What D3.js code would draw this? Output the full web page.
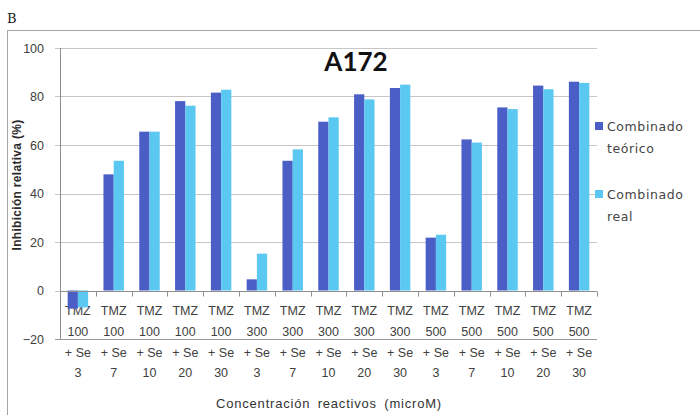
<!DOCTYPE html>
<html>
<head>
<meta charset="utf-8">
<script src="https://cdn.jsdelivr.net/npm/d3@7/dist/d3.min.js"></script>
<style>
  html, body { margin: 0; padding: 0; background: #fff; }
  svg { display: block; }
</style>
</head>
<body>
<div id="chart"></div>
<script>
// Combination groups: temozolomide dose and selenium dose (microM)
const tmzDose = [100, 100, 100, 100, 100, 300, 300, 300, 300, 300, 500, 500, 500, 500, 500];
const seDose  = [3, 7, 10, 20, 30, 3, 7, 10, 20, 30, 3, 7, 10, 20, 30];
const categories = tmzDose.map((t, i) => `TMZ ${t} + Se ${seDose[i]}`);

// Relative inhibition (%) per group
const seriesNames = ["Combinado teórico", "Combinado real"];
const teorico = [-7.5, 47.9, 65.5, 78.1, 81.6, 4.6, 53.5, 69.6, 80.9, 83.5, 21.8, 62.3, 75.5, 84.5, 86.1];
const real    = [-7.0, 53.5, 65.5, 76.2, 82.8, 15.2, 58.2, 71.4, 78.8, 84.9, 23.0, 61.0, 74.8, 83.0, 85.6];

const yTicks = [-20, 0, 20, 40, 60, 80, 100];
const colors = ["#4a5ec6", "#5bc8f2"];

const W = 700, H = 415;
const plot = { left: 60, right: 597, top: 48, bottom: 339 };

const svg = d3.select("#chart").append("svg")
  .attr("width", W).attr("height", H);

// Outer chart frame
svg.append("rect")
  .attr("x", 7.5).attr("y", 30.5)
  .attr("width", 720).attr("height", 420)
  .attr("fill", "none").attr("stroke", "#a6a6a6").attr("stroke-width", 1);

// Panel letter
svg.append("text")
  .attr("x", 7).attr("y", 22.5)
  .attr("font-family", "DejaVu Serif").attr("font-size", 13)
  .attr("fill", "#222").text("B");

const x = d3.scaleBand().domain(categories)
  .range([plot.left, plot.right]).paddingInner(0).paddingOuter(0);
const x1 = d3.scaleBand().domain(seriesNames)
  .range([0, x.bandwidth()]).paddingInner(0).paddingOuter(0.75);
const y = d3.scaleLinear().domain([-20, 100]).range([plot.bottom, plot.top]);

// Horizontal gridlines with small outward ticks
svg.append("g").selectAll("line").data(yTicks).join("line")
  .attr("x1", plot.left - 5).attr("x2", plot.right)
  .attr("y1", d => Math.round(y(d)) + 0.5).attr("y2", d => Math.round(y(d)) + 0.5)
  .attr("stroke", d => d === -20 ? "#9a9a9a" : "#c6c6c6")
  .attr("stroke-width", 1);

// Y axis
const yAxis = d3.axisLeft(y).tickValues(yTicks).tickSize(0).tickPadding(16);
const gy = svg.append("g").attr("transform", `translate(${plot.left},0)`).call(yAxis);
gy.select(".domain").remove();
gy.selectAll("text")
  .attr("font-family", "Liberation Sans").attr("font-size", 12.5)
  .attr("fill", "#404040");
svg.append("line")
  .attr("x1", plot.left + 0.5).attr("x2", plot.left + 0.5)
  .attr("y1", plot.top).attr("y2", plot.bottom)
  .attr("stroke", "#8f8f8f");

// Category labels, wrapped onto four lines
const labelLines = i => ["TMZ", String(tmzDose[i]), "+ Se", String(seDose[i])];
const lineY = [315, 336, 357, 377];
const gl = svg.append("g");
categories.forEach((c, i) => {
  const cx = x(c) + x.bandwidth() / 2;
  labelLines(i).forEach((t, k) => {
    gl.append("text")
      .attr("x", cx).attr("y", lineY[k])
      .attr("text-anchor", "middle")
      .attr("font-family", "Liberation Sans").attr("font-size", 12.5)
      .attr("fill", "#404040").text(t);
  });
});

// Bars
const rows = categories.map((c, i) => ({ c, vals: [teorico[i], real[i]] }));
svg.append("g").selectAll("g").data(rows).join("g")
  .attr("transform", d => `translate(${x(d.c)},0)`)
  .selectAll("rect").data(d => d.vals.map((v, k) => ({ v, k })))
  .join("rect")
  .attr("x", d => x1(seriesNames[d.k]))
  .attr("width", x1.bandwidth())
  .attr("y", d => y(Math.max(0, d.v)))
  .attr("height", d => Math.abs(y(d.v) - y(0)))
  .attr("fill", d => colors[d.k]);

// Category axis at zero with ticks between groups
const y0 = Math.round(y(0)) + 0.5;
svg.append("line")
  .attr("x1", plot.left).attr("x2", plot.right)
  .attr("y1", y0).attr("y2", y0)
  .attr("stroke", "#8f8f8f");
svg.append("g").selectAll("line")
  .data(d3.range(categories.length + 1))
  .join("line")
  .attr("x1", i => Math.round(plot.left + i * x.step()) + 0.5)
  .attr("x2", i => Math.round(plot.left + i * x.step()) + 0.5)
  .attr("y1", y0).attr("y2", y0 + 5)
  .attr("stroke", "#8f8f8f");

// Title
svg.append("text")
  .attr("x", 356).attr("y", 70.5)
  .attr("text-anchor", "middle")
  .attr("font-family", "Lato").attr("font-weight", "bold").attr("font-size", 26)
  .attr("fill", "#111").text("A172");

// Axis titles
svg.append("text")
  .attr("x", 329).attr("y", 408)
  .attr("text-anchor", "middle")
  .attr("font-family", "Liberation Sans").attr("font-size", 13)
  .attr("letter-spacing", 0.8).attr("word-spacing", 3)
  .attr("fill", "#333")
  .text("Concentración reactivos (microM)");

svg.append("text")
  .attr("transform", "translate(21,185) rotate(-90)")
  .attr("text-anchor", "middle")
  .attr("font-family", "Liberation Sans").attr("font-weight", "bold").attr("font-size", 12)
  .attr("letter-spacing", 0.3)
  .attr("fill", "#2a2a2a")
  .text("Inhibición relativa (%)");

// Legend
const legend = [
  { lines: ["Combinado", "teórico"], y: 131 },
  { lines: ["Combinado", "real"], y: 199 }
];
const lg = svg.append("g");
legend.forEach((e, k) => {
  lg.append("rect")
    .attr("x", 595).attr("y", e.y - 9)
    .attr("width", 8).attr("height", 8)
    .attr("fill", colors[k]);
  e.lines.forEach((t, j) => {
    lg.append("text")
      .attr("x", 607).attr("y", e.y + j * 22)
      .attr("font-family", "DejaVu Sans").attr("font-size", 12.5)
      .attr("letter-spacing", 0.6)
      .attr("fill", "#454545").text(t);
  });
});
</script>
</body>
</html>
